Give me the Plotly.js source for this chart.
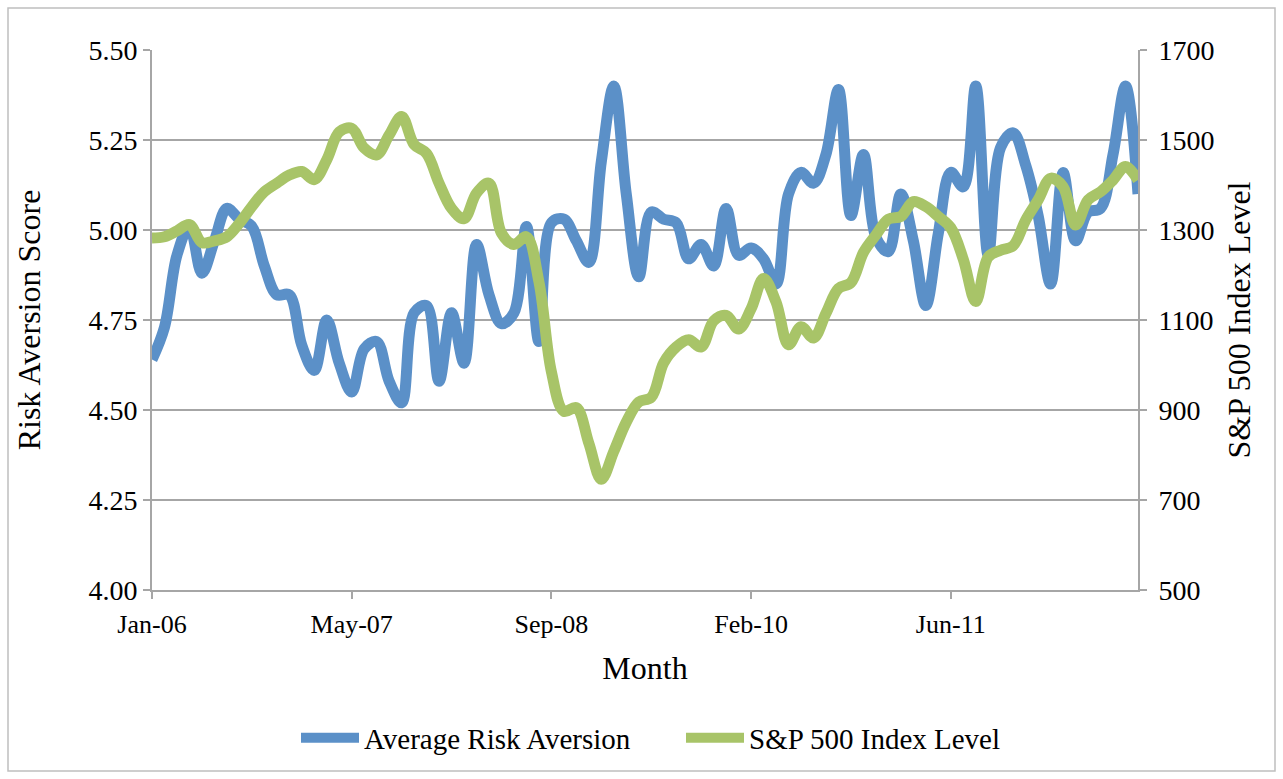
<!DOCTYPE html>
<html>
<head>
<meta charset="utf-8">
<script src="https://cdn.plot.ly/plotly-3.0.1.min.js"></script>
<style>
  html, body { margin: 0; padding: 0; background: #ffffff; }
  #chart { width: 1283px; height: 779px; }
</style>
</head>
<body>
<div id="chart"></div>
<script>
// Tick labels on the month axis (every 16th observation)
const tickIdx = [0, 16, 32, 48, 64];
const tickLabels = ['Jan-06', 'May-07', 'Sep-08', 'Feb-10', 'Jun-11'];

// Average Risk Aversion (left axis), one value per month observation
const riskAversion = [
  4.64, 4.73, 4.93, 5.01, 4.88, 4.97, 5.06, 5.03, 5.01, 4.90,
  4.82, 4.82, 4.68, 4.61, 4.75, 4.63, 4.55, 4.67, 4.69, 4.58,
  4.52, 4.77, 4.79, 4.58, 4.77, 4.63, 4.96, 4.82, 4.74, 4.77,
  5.01, 4.69, 5.02, 5.03, 4.97, 4.91, 5.19, 5.40, 5.10, 4.87,
  5.05, 5.03, 5.02, 4.92, 4.96, 4.90, 5.06, 4.93, 4.95, 4.92,
  4.85, 5.10, 5.16, 5.13, 5.21, 5.39, 5.04, 5.21, 4.98, 4.94,
  5.10, 4.97, 4.79, 4.99, 5.16, 5.12, 5.40, 4.93, 5.23, 5.27,
  5.18, 5.04, 4.85, 5.16, 4.97, 5.05, 5.06, 5.21, 5.40, 5.10
];

// S&P 500 Index Level (right axis)
const sp500 = [
  1282, 1285, 1298, 1312, 1272, 1276, 1285, 1315, 1352, 1385,
  1404, 1422, 1430, 1412, 1456, 1518, 1526, 1482, 1467, 1511,
  1552, 1490, 1470, 1404, 1348, 1325, 1382, 1404, 1293, 1268,
  1285, 1185, 985, 897, 905, 826, 746, 808, 873, 918,
  928, 1005, 1040, 1056, 1040, 1098, 1110, 1080, 1125, 1192,
  1140, 1045, 1085, 1060, 1115, 1170, 1183, 1250, 1289, 1324,
  1330, 1363, 1352, 1330, 1305, 1235, 1141, 1240, 1255, 1265,
  1322, 1367, 1415, 1396, 1311, 1367, 1385, 1411, 1441, 1411
];

const obs = riskAversion.map((_, i) => i);

const GRID = '#A6A6A6';
const FONT = 'Liberation Serif, "Times New Roman", serif';

// Plot-area geometry (px) used only to place the outer chart border and legend
const L = 152, R = 145, T = 50, B = 189, W = 1283, H = 779;
const pw = W - L - R, ph = H - T - B;
const px2x = p => (p - L) / pw;
const py2y = p => (H - B - p) / ph;

const traces = [
  {
    x: obs, y: riskAversion, name: 'Average Risk Aversion',
    type: 'scatter', mode: 'lines', yaxis: 'y',
    line: { color: '#5B90C8', width: 11, shape: 'spline', smoothing: 1 }
  },
  {
    x: obs, y: sp500, name: 'S&P 500 Index Level',
    type: 'scatter', mode: 'lines', yaxis: 'y2',
    line: { color: '#A8C468', width: 11, shape: 'spline', smoothing: 1 }
  }
];

const layout = {
  width: W, height: H,
  margin: { l: L, r: R, t: T, b: B, pad: 0 },
  paper_bgcolor: '#ffffff', plot_bgcolor: '#ffffff',
  font: { family: FONT, size: 26, color: '#000000' },
  showlegend: true,
  legend: {
    orientation: 'h', x: px2x(296), xanchor: 'left', y: py2y(738), yanchor: 'middle',
    font: { family: FONT, size: 29, color: '#000000' },
    itemwidth: 58, entrywidth: 312, entrywidthmode: 'pixels'
  },
  xaxis: {
    range: [0, 79], tickmode: 'array', tickvals: tickIdx, ticktext: tickLabels,
    ticks: 'outside', ticklen: 7, tickwidth: 2, tickcolor: GRID,
    showline: true, linecolor: GRID, linewidth: 2,
    showgrid: false, zeroline: false,
    tickfont: { family: FONT, size: 26 }, ticklabelstandoff: 3,
    title: { text: 'Month', font: { family: FONT, size: 32 }, standoff: 18 }
  },
  yaxis: {
    range: [4, 5.5], tick0: 4, dtick: 0.25, tickformat: '.2f',
    ticks: 'outside', ticklen: 7, tickwidth: 2, tickcolor: GRID,
    showline: true, linecolor: GRID, linewidth: 2,
    showgrid: true, gridcolor: GRID, gridwidth: 2, zeroline: false,
    tickfont: { family: FONT, size: 28 },
    title: { text: 'Risk Aversion Score', font: { family: FONT, size: 32 }, standoff: 38 }
  },
  yaxis2: {
    overlaying: 'y', side: 'right',
    range: [500, 1700], tick0: 500, dtick: 200,
    ticks: 'outside', ticklen: 7, tickwidth: 2, tickcolor: GRID,
    showline: true, linecolor: GRID, linewidth: 2,
    showgrid: false, zeroline: false,
    tickfont: { family: FONT, size: 28 }, ticklabelstandoff: 6,
    title: { text: 'S&P 500 Index Level', font: { family: FONT, size: 32 }, standoff: 14 }
  },
  shapes: [{
    type: 'rect', xref: 'paper', yref: 'paper', layer: 'below',
    x0: px2x(8), x1: px2x(1275), y0: py2y(771), y1: py2y(8),
    line: { color: '#BFBFBF', width: 1.5 }, fillcolor: 'rgba(0,0,0,0)'
  }]
};

Plotly.newPlot('chart', traces, layout, { displayModeBar: false, staticPlot: true });
</script>
</body>
</html>
